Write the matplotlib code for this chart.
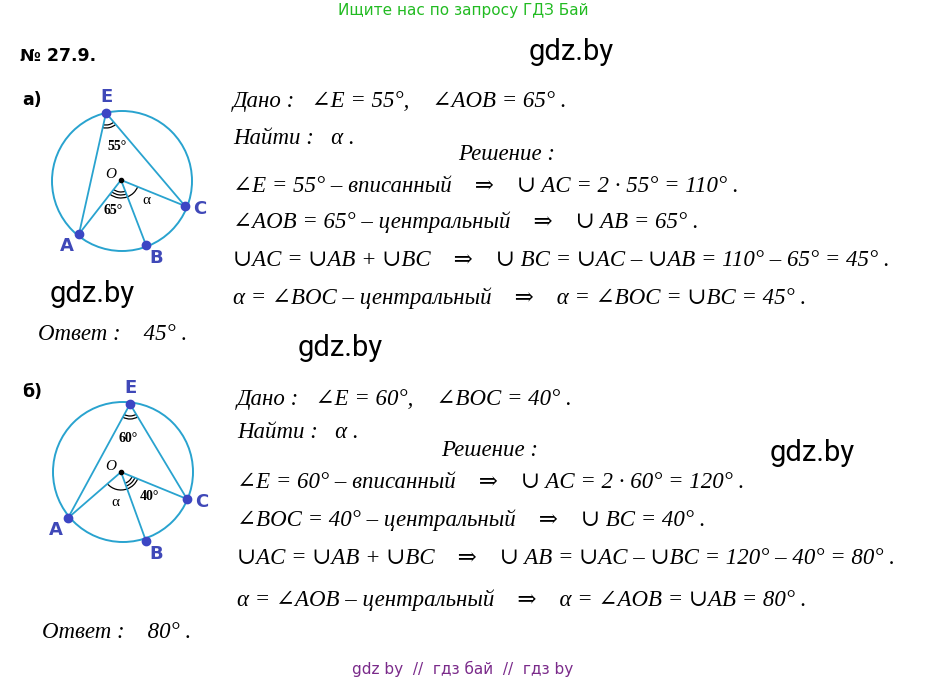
import numpy as np
import matplotlib.pyplot as plt
from matplotlib.patches import Circle, Arc

LINE = "#29a3cf"
DOT = "#3c46c4"
SERIF = ["Liberation Serif", "DejaVu Serif"]

# diagram points (pixel coords of the page)
pts_a = {"O": (121, 180), "E": (106, 113), "C": (185, 206), "A": (79, 234), "B": (146, 245)}
pts_b = {"O": (121, 472), "E": (130, 404), "C": (187, 499), "A": (68, 518), "B": (146, 541)}
center_a, radius_a = (122, 181), 70
center_b, radius_b = (123, 472), 70

lines_a = [
    "Дано :   ∠E = 55°,    ∠AOB = 65° .",
    "Найти :   α .",
    "∠E = 55° – вписанный    ⇒    ∪ AC = 2 · 55° = 110° .",
    "∠AOB = 65° – центральный    ⇒    ∪ AB = 65° .",
    "∪AC = ∪AB + ∪BC    ⇒    ∪ BC = ∪AC – ∪AB = 110° – 65° = 45° .",
    "α = ∠BOC – центральный    ⇒    α = ∠BOC = ∪BC = 45° .",
]
ys_a = [102, 139, 186, 222, 261, 298]
lines_b = [
    "Дано :   ∠E = 60°,    ∠BOC = 40° .",
    "Найти :   α .",
    "∠E = 60° – вписанный    ⇒    ∪ AC = 2 · 60° = 120° .",
    "∠BOC = 40° – центральный    ⇒    ∪ BC = 40° .",
    "∪AC = ∪AB + ∪BC    ⇒    ∪ AB = ∪AC – ∪BC = 120° – 40° = 80° .",
    "α = ∠AOB – центральный    ⇒    α = ∠AOB = ∪AB = 80° .",
]
ys_b = [399, 433, 482, 520, 558, 600]

fig = plt.figure(figsize=(9.26, 6.82), dpi=100)
ax = fig.add_axes([0, 0, 1, 1])
ax.set_xlim(0, 926)
ax.set_ylim(682, 0)
ax.axis("off")


def ang(p, q):
    return np.degrees(np.arctan2(q[1] - p[1], q[0] - p[0]))


def mark(p, q1, q2, r, n):
    a1, a2 = ang(p, q1), ang(p, q2)
    lo, hi = sorted([a1, a2])
    if hi - lo > 180:
        lo, hi = hi, lo + 360
    for i in range(n):
        ax.add_patch(Arc(p, 2 * (r + 3 * i), 2 * (r + 3 * i), theta1=lo, theta2=hi, color="black", lw=0.9))


def diagram(pts, center, radius, angle_e, angle_o, alpha_pos, marks):
    ax.add_patch(Circle(center, radius, fill=False, color=LINE, lw=1.4))
    for a, b in [("E", "A"), ("E", "C"), ("O", "A"), ("O", "B"), ("O", "C")]:
        ax.plot([pts[a][0], pts[b][0]], [pts[a][1], pts[b][1]], color=LINE, lw=1.3)
    for k in "EACB":
        ax.plot(*pts[k], "o", color=DOT, ms=6)
    ax.plot(*pts["O"], "o", color="black", ms=3)
    for (p, q1, q2, r, n) in marks:
        mark(pts[p], pts[q1], pts[q2], r, n)
    o = pts["O"]
    ax.text(o[0] - 5, o[1] - 6, "O", family=SERIF, style="italic", fontsize=11, ha="right", va="center")
    ax.text(*angle_e[0], angle_e[1], family=SERIF, fontsize=10, weight="bold", ha="center", va="center")
    ax.text(*angle_o[0], angle_o[1], family=SERIF, fontsize=10, weight="bold", ha="center", va="center")
    ax.text(*alpha_pos, "α", family=SERIF, fontsize=11, ha="center", va="center")
    for k, (dx, dy) in {"E": (0, -16), "A": (-12, 12), "B": (10, 13), "C": (15, 3)}.items():
        ax.text(pts[k][0] + dx, pts[k][1] + dy, k, color="#3f48b8", fontsize=13,
                weight="bold", ha="center", va="center")


diagram(pts_a, center_a, radius_a, ((117, 147), "55°"), ((113, 211), "65°"), (146, 201),
        [("E", "A", "C", 12, 2), ("O", "A", "B", 12, 3), ("O", "B", "C", 18, 1)])
diagram(pts_b, center_b, radius_b, ((128, 438), "60°"), ((149, 496), "40°"), (115, 502),
        [("E", "A", "C", 12, 2), ("O", "B", "C", 12, 3), ("O", "A", "B", 18, 1)])

FS = 16.5
for txt, y in zip(lines_a, ys_a):
    ax.text(233, y, txt, family=SERIF, style="italic", fontsize=FS, va="center")
for txt, y in zip(lines_b, ys_b):
    ax.text(237, y, txt, family=SERIF, style="italic", fontsize=FS, va="center")
ax.text(458, 154, "Решение :", family=SERIF, style="italic", fontsize=FS, va="center")
ax.text(441, 451, "Решение :", family=SERIF, style="italic", fontsize=FS, va="center")
ax.text(38, 334, "Ответ :    45° .", family=SERIF, style="italic", fontsize=FS, va="center")
ax.text(42, 633, "Ответ :    80° .", family=SERIF, style="italic", fontsize=FS, va="center")

ax.text(463, 11, "Ищите нас по запросу ГДЗ Бай", color="#22bb22", fontsize=11, ha="center", va="center")
ax.text(20, 56, "№ 27.9.", fontsize=12.5, weight="bold", va="center")
ax.text(22, 100, "а)", fontsize=12.5, weight="bold", va="center")
ax.text(22, 392, "б)", fontsize=12.5, weight="bold", va="center")
for x, y in [(571, 52), (92, 294), (340, 348), (812, 453)]:
    ax.text(x, y, "gdz.by", fontsize=21, ha="center", va="center", family="Roboto")
ax.text(463, 669, "gdz by  //  гдз бай  //  гдз by", color="#7a2a8a", fontsize=11, ha="center", va="center")

fig.savefig("out.png", dpi=100)
